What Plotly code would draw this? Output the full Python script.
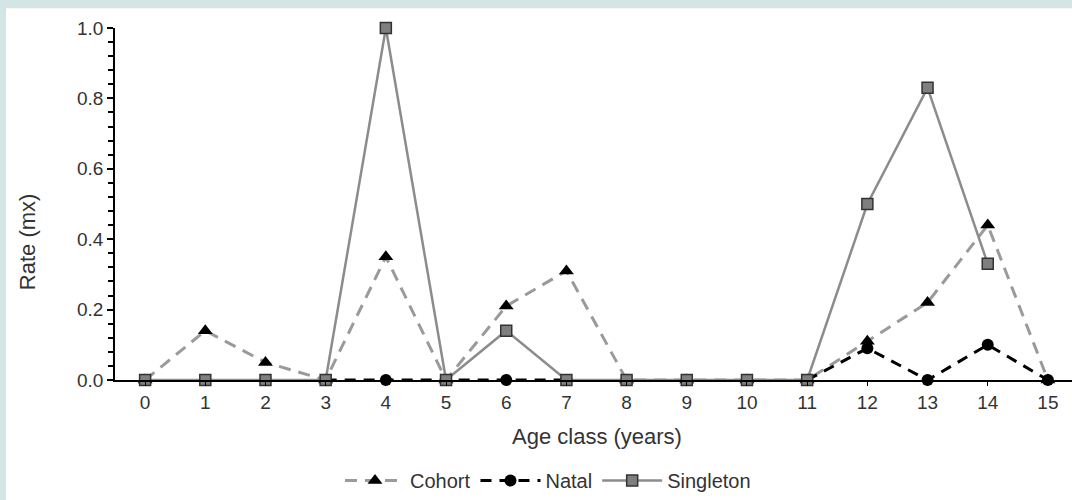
import plotly.graph_objects as go

# Age classes and per-class rates (mx) for each group
age_class = list(range(16))
tick_labels = [str(a) for a in age_class]

cohort = [0, 0.14, 0.05, 0, 0.35, 0, 0.21, 0.31, 0, 0, 0, 0, 0.11, 0.22, 0.44, 0]
natal = [None, None, None, 0, 0, 0, 0, 0, None, None, None, 0, 0.09, 0, 0.10, 0]
singleton = [0, 0, 0, 0, 1.0, 0, 0.14, 0, 0, 0, 0, 0, 0.50, 0.83, 0.33, None]

W, H = 1072, 500
ML, MR, MT, MB = 115, 0, 28, 117
PW, PH = W - ML - MR, H - MT - MB


def px_x(p):
    return (p - ML) / PW


def px_y(p):
    return (H - MB - p) / PH


FONT = "Liberation Sans, Arial, sans-serif"
TXT = "#333333"

fig = go.Figure()

fig.add_trace(go.Scatter(
    x=age_class, y=cohort, name="Cohort", mode="lines+markers",
    line=dict(color="#9a9a9a", width=3, dash="12px,8px"),
    marker=dict(symbol="triangle-up", size=13, color="black"),
    cliponaxis=False,
))
fig.add_trace(go.Scatter(
    x=age_class, y=natal, name="Natal", mode="lines+markers",
    line=dict(color="black", width=3, dash="11px,8px"),
    marker=dict(symbol="circle", size=12, color="black"),
    connectgaps=False, cliponaxis=False,
))
fig.add_trace(go.Scatter(
    x=age_class, y=singleton, name="Singleton", mode="lines+markers",
    line=dict(color="#8c8c8c", width=2.5),
    marker=dict(symbol="square", size=11, color="#7f7f7f",
                line=dict(color="#333333", width=1.5)),
    connectgaps=False, cliponaxis=False,
))

fig.update_layout(
    width=W, height=H,
    margin=dict(l=ML, r=MR, t=MT, b=MB, pad=0),
    paper_bgcolor="#d3e5e4",
    plot_bgcolor="white",
    font=dict(family=FONT, size=19, color=TXT),
    showlegend=True,
    legend=dict(
        orientation="h", x=px_x(548), y=px_y(485),
        xanchor="center", yanchor="middle",
        font=dict(size=20, color=TXT), bgcolor="rgba(0,0,0,0)",
        itemwidth=60,
    ),
    xaxis=dict(
        range=[-0.5, 15.4], tickmode="array", tickvals=age_class,
        ticktext=tick_labels, showgrid=False, zeroline=False,
        showline=True, linecolor="black", linewidth=1.5,
        ticks="outside", ticklen=4, tickcolor="black", tickwidth=1.2,
        tickfont=dict(size=19, color=TXT),
    ),
    yaxis=dict(
        range=[0, 1.0], dtick=0.2, tickformat=".1f", showgrid=False,
        zeroline=False, showline=True, linecolor="black", linewidth=1.5,
        ticks="outside", ticklen=6, tickcolor="black", tickwidth=1.5,
        tickfont=dict(size=19, color=TXT),
        minor=dict(dtick=0.04, ticks="outside", ticklen=5,
                   tickcolor="black", tickwidth=1.5, showgrid=False),
    ),
    shapes=[dict(
        type="rect", xref="paper", yref="paper", layer="below",
        x0=px_x(6), x1=px_x(W + 5), y0=px_y(H + 5), y1=px_y(8),
        fillcolor="white", line=dict(width=0),
    )],
    annotations=[
        dict(text="Age class (years)", xref="paper", yref="paper",
             x=px_x(597), y=px_y(440), xanchor="center", yanchor="middle",
             showarrow=False, font=dict(size=22, color=TXT)),
        dict(text="Rate (mx)", xref="paper", yref="paper",
             x=px_x(27), y=px_y(244), xanchor="center", yanchor="middle",
             textangle=-90, showarrow=False, font=dict(size=22, color=TXT)),
    ],
)

fig.write_html("out.html")
